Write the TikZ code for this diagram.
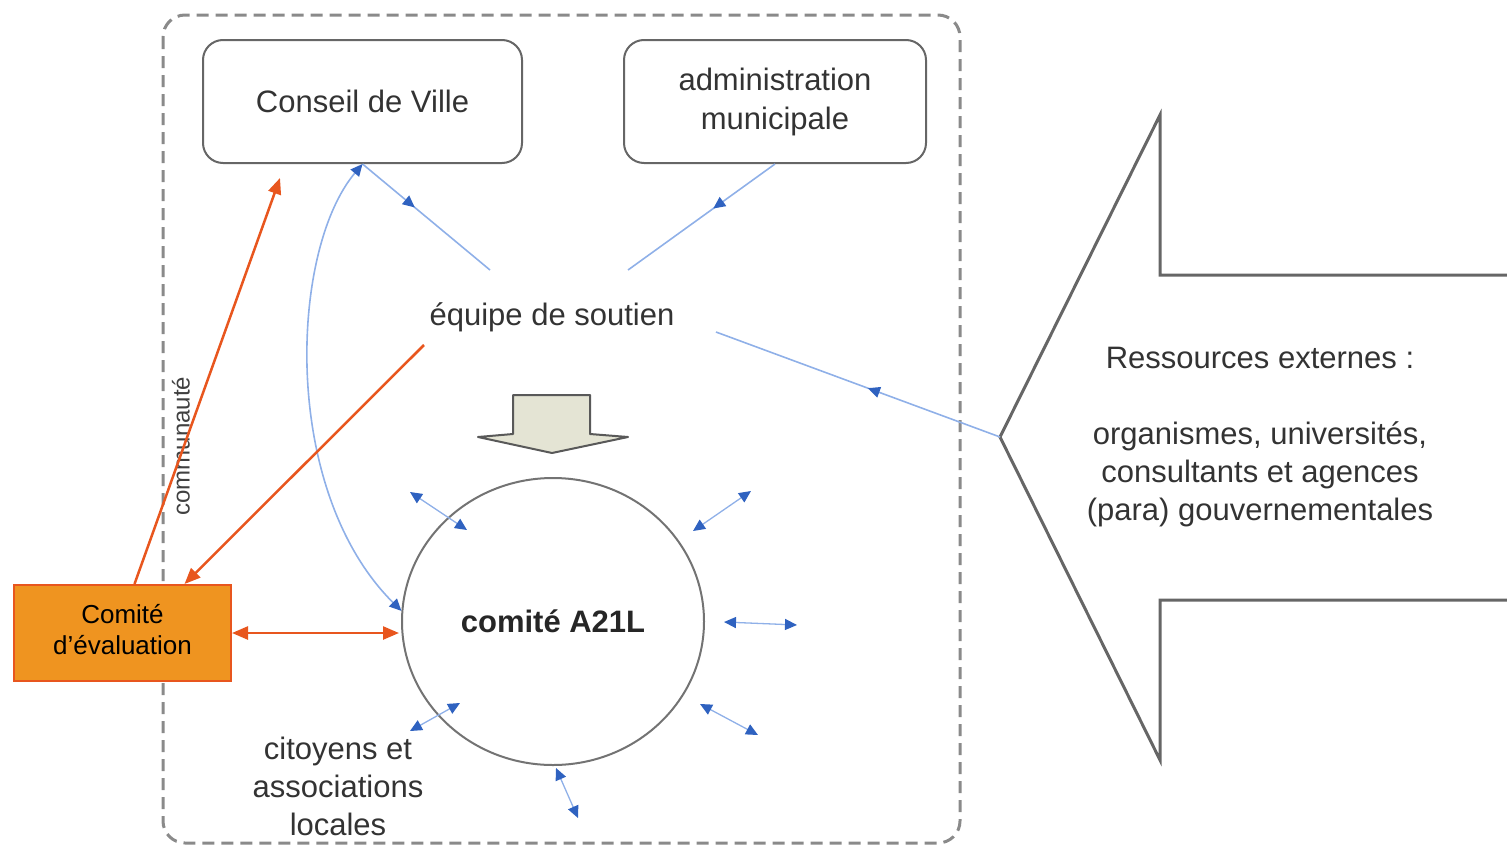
\documentclass[tikz,border=0pt]{standalone}
\usepackage{fontspec}
\setmainfont{Liberation Sans}
\usetikzlibrary{arrows.meta,decorations.markings,calc,shapes.geometric}
\definecolor{lineblue}{HTML}{8FB0E8}
\definecolor{tipblue}{HTML}{2F62C0}
\definecolor{txt}{HTML}{333333}
\definecolor{boxgray}{HTML}{666666}
\definecolor{framegray}{HTML}{8A8A8A}
\definecolor{orfill}{HTML}{EF9420}
\definecolor{orline}{HTML}{E8561E}
\definecolor{blockfill}{HTML}{E4E4D4}
\tikzset{
  bt/.tip={Triangle[length=12pt,width=11pt,color=tipblue]},
  ot/.tip={Triangle[length=16pt,width=13pt,color=orline]},
  bl/.style={draw=lineblue, line width=1.6pt},
  midarrow/.style={postaction={decorate},decoration={markings,mark=at position #1 with {\arrow{bt}}}},
  midarrowrev/.style={postaction={decorate},decoration={markings,mark=at position #1 with {\arrowreversed{bt}}}},
  orl/.style={draw=orline, line width=2.5pt},
  rbox/.style={draw=boxgray, line width=2pt, rounded corners=20pt, align=center, text=txt, font=\fontsize{31}{39}\selectfont},
  lbl/.style={align=center, text=txt, font=\fontsize{31}{38}\selectfont},
}
\begin{document}
\begin{tikzpicture}[x=1pt,y=-1pt]
\useasboundingbox (0,0) rectangle (1507,846);
% frame
\draw[framegray, line width=3pt, dash pattern=on 12pt off 7pt, rounded corners=22pt] (163,15) rectangle (960,843);
% boxes
\node[rbox, minimum width=319pt, minimum height=123pt] (conseil) at (362.5,101.5) {Conseil de Ville};
\node[rbox, minimum width=302pt, minimum height=123pt] (admin) at (775,101.5) {administration\\municipale};
\node[lbl] (equipe) at (552,317) {équipe de soutien};
% block arrow
\draw[draw=black!65, line width=2pt, fill=blockfill, line join=round]
  (513,395) -- (590,395) -- (590,434) -- (628,437) -- (552,453) -- (478,437) -- (513,434) -- cycle;
% ellipse
\node[ellipse, draw=black!55, line width=2pt, minimum width=302pt, minimum height=287pt, inner sep=0pt, text=black!85, font=\fontsize{31}{38}\selectfont\bfseries] (circ) at (553,621.5) {comité A21L};
\node[lbl] (cit) at (338,786) {citoyens et\\associations\\locales};
\node[rotate=90, text=black!75, font=\fontsize{24}{28}\selectfont] (comm) at (181,446) {communauté};
% comite evaluation
\node[draw=orline, fill=orfill, line width=2pt, minimum width=217pt, minimum height=96pt, align=center, font=\fontsize{26}{31}\selectfont] (comite) at (122.5,633) {\raisebox{5pt}{\begin{tabular}{@{}c@{}}Comité\\d’évaluation\end{tabular}}};
% external resources arrow
\coordinate (ext) at (1000,437);
\draw[black!60, line width=3pt, line join=miter] (1507,275) -- (1160,275) -- (1160,115) -- (ext) -- (1160,760) -- (1160,600) -- (1507,600);
\node[lbl] (res) at (1260,437) {Ressources externes :\\[38pt]organismes, universités,\\consultants et agences\\(para) gouvernementales};
% blue connectors
\coordinate (e1) at (490,270);
\coordinate (e2) at (628,270);
\coordinate (e3) at (716,332);
\draw[bl, midarrow=0.41] (conseil.south) -- (e1);
\draw[bl, midarrow=0.42] (admin.south) -- (e2);
\draw[bl, midarrowrev=0.535] (e3) -- (ext);
\draw[bl, bt-bt] (conseil.south) .. controls (290,250) and (280,490) .. (circ.176);
% small double arrows
\coordinate (a1o) at (410,492); \coordinate (a1i) at (467,530);
\coordinate (a2o) at (751,491); \coordinate (a2i) at (693,531);
\coordinate (a3i) at (724,622); \coordinate (a3o) at (797,625);
\coordinate (a4i) at (700,704); \coordinate (a4o) at (758,735);
\coordinate (a5i) at (556,768); \coordinate (a5o) at (578,818);
\coordinate (a6i) at (460,703); \coordinate (a6o) at (410,731);
\foreach \p in {1,...,6}{\draw[bl, line width=1.3pt, bt-bt] (a\p o) -- (a\p i);}
% orange connectors
\coordinate (o1) at (280,178);
\coordinate (o2) at (424,345);
\draw[orl, -ot] ($(comite.north)+(12,0)$) -- (o1);
\draw[orl, -ot] (o2) -- ($(comite.north)+(62,0)$);
\draw[orl, ot-ot] (comite.east) -- ($(comite.east -| circ.west)+(-2,0)$);
\end{tikzpicture}
\end{document}
